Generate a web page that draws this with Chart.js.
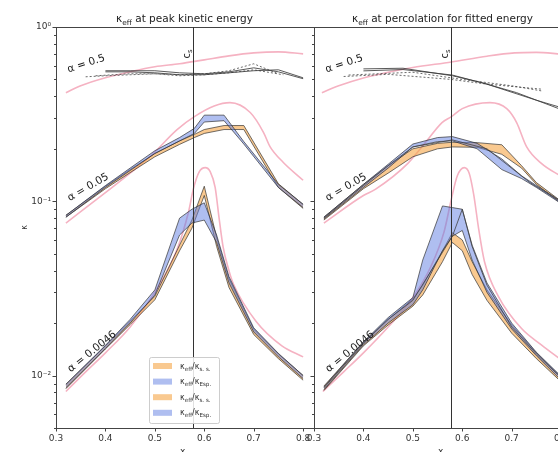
<!DOCTYPE html>
<html><head><meta charset="utf-8">
<script src="https://cdn.jsdelivr.net/npm/chart.js@4.4.1/dist/chart.umd.min.js"></script>
<style>
html,body{margin:0;padding:0;background:#fff;overflow:hidden;width:558px;height:452px;position:relative;}
canvas{position:absolute;top:0;}
#c1{left:0}
#c2{left:258px}
</style></head><body>
<canvas id="c2" width="330" height="452"></canvas>
<canvas id="c1" width="330" height="452"></canvas>
<script>
// ---------------- shared ----------------
const xc = 0.578;
const xTickVals = [0.3, 0.4, 0.5, 0.6, 0.7, 0.8];
const yMajorTicks = [0.01, 0.1, 1];
const yMinorTicks = [0.005,0.006,0.007,0.008,0.009,0.02,0.03,0.04,0.05,0.06,0.07,0.08,0.09,0.2,0.3,0.4,0.5,0.6,0.7,0.8,0.9];
const alphaLabels = ['α = 0.5', 'α = 0.05', 'α = 0.0046'];
const alphaLabelX = [0.361, 0.365, 0.373];
const alphaLabelY = [0.615, 0.120, 0.0137];
const alphaLabelAngle = [-18, -30, -39];

// ---------------- LEFT: kappa_eff at peak kinetic energy ----------------
const L_pink05_x = [0.32,0.35,0.40,0.45,0.50,0.55,0.60,0.65,0.70,0.75,0.80];
const L_pink05_y = [0.420,0.460,0.511,0.553,0.591,0.615,0.648,0.683,0.710,0.720,0.701];
const L_pink005_x = [0.32,0.40,0.45,0.49,0.545,0.58,0.62,0.652,0.693,0.72,0.733,0.76,0.80];
const L_pink005_y = [0.075,0.112,0.145,0.180,0.258,0.306,0.352,0.368,0.323,0.248,0.206,0.167,0.132];
const L_pink0046_x = [0.32,0.36,0.40,0.45,0.504,0.545,0.568,0.578,0.59,0.602,0.612,0.622,0.63,0.638,0.65,0.659,0.705,0.757,0.80];
const L_pink0046_y = [0.0081,0.0105,0.0135,0.019,0.0314,0.053,0.0865,0.118,0.148,0.156,0.148,0.12,0.08,0.055,0.040,0.0335,0.0204,0.0148,0.0128];

const L_g05a_x = [0.40,0.45,0.50,0.55,0.60,0.65,0.70,0.75,0.80];
const L_g05a_y = [0.561,0.561,0.561,0.546,0.539,0.553,0.583,0.553,0.505];
const L_g05b_x = [0.40,0.45,0.50,0.55,0.60,0.65,0.70,0.75,0.80];
const L_g05b_y = [0.553,0.553,0.546,0.532,0.532,0.546,0.561,0.568,0.511];
const L_g05c_x = [0.36,0.40,0.45,0.50,0.55,0.60,0.65,0.70,0.75];
const L_g05c_y = [0.518,0.525,0.532,0.539,0.532,0.539,0.561,0.615,0.539];
const L_g05d_x = [0.38,0.45,0.50,0.55,0.60,0.65,0.70,0.76];
const L_g05d_y = [0.525,0.539,0.539,0.525,0.532,0.546,0.568,0.532];

const L_a005_x = [0.32,0.40,0.45,0.50,0.55,0.58,0.60,0.64,0.68,0.75,0.80];
const L_a005_blueLo = [0.081,0.120,0.150,0.188,0.222,0.245,0.285,0.290,0.213,0.120,0.092];
const L_a005_blueHi = [0.083,0.123,0.155,0.195,0.232,0.262,0.312,0.312,0.220,0.125,0.096];
const L_a005_orLo = [0.081,0.118,0.146,0.180,0.212,0.232,0.245,0.258,0.258,0.120,0.091];
const L_a005_orHi = [0.083,0.122,0.152,0.188,0.222,0.242,0.258,0.272,0.272,0.126,0.096];

const L_a0046_x = [0.32,0.40,0.45,0.50,0.55,0.575,0.60,0.625,0.65,0.70,0.75,0.80];
const L_a0046_orLo = [0.0084,0.0142,0.0196,0.0272,0.052,0.070,0.108,0.055,0.032,0.0172,0.0125,0.0094];
const L_a0046_orHi = [0.0089,0.0148,0.0205,0.0285,0.056,0.078,0.122,0.062,0.036,0.0185,0.0133,0.0100];
const L_a0046_blueLo = [0.0085,0.0143,0.0200,0.029,0.064,0.075,0.078,0.058,0.034,0.0178,0.0128,0.0096];
const L_a0046_blueHi = [0.0089,0.0149,0.0210,0.031,0.080,0.090,0.098,0.064,0.037,0.0188,0.0134,0.0100];

// ---------------- RIGHT: kappa_eff at percolation for fitted energy ----------------
const R_pink05_x = [0.316,0.35,0.40,0.45,0.50,0.578,0.65,0.706,0.75,0.80];
const R_pink05_y = [0.42,0.46,0.51,0.55,0.585,0.63,0.68,0.71,0.715,0.70];
const R_pink005_x = [0.32,0.40,0.424,0.49,0.527,0.559,0.578,0.60,0.656,0.69,0.71,0.73,0.76,0.80];
const R_pink005_y = [0.075,0.108,0.117,0.165,0.22,0.283,0.306,0.34,0.368,0.34,0.283,0.206,0.165,0.139];
const R_pink0046_x = [0.318,0.36,0.40,0.45,0.50,0.537,0.563,0.578,0.59,0.604,0.614,0.623,0.633,0.645,0.673,0.72,0.76,0.80];
const R_pink0046_y = [0.0081,0.0105,0.0135,0.019,0.028,0.0425,0.0665,0.103,0.14,0.156,0.145,0.11,0.07,0.045,0.0285,0.0186,0.015,0.0123];

const R_g05a_x = [0.40,0.48,0.58,0.64,0.71,0.80];
const R_g05a_y = [0.575,0.58,0.525,0.479,0.42,0.336];
const R_g05b_x = [0.40,0.48,0.58,0.65,0.75,0.80];
const R_g05b_y = [0.56,0.57,0.53,0.47,0.38,0.345];
const R_g05c_x = [0.36,0.45,0.578,0.65,0.76];
const R_g05c_y = [0.52,0.535,0.50,0.47,0.44];
const R_g05d_x = [0.37,0.50,0.60,0.70,0.76];
const R_g05d_y = [0.53,0.55,0.50,0.46,0.43];

const R_a005_x = [0.32,0.40,0.45,0.50,0.55,0.58,0.63,0.68,0.72,0.75,0.80];
const R_a005_orLo = [0.078,0.118,0.145,0.180,0.200,0.205,0.204,0.186,0.155,0.125,0.097];
const R_a005_orHi = [0.081,0.125,0.160,0.200,0.215,0.218,0.217,0.211,0.160,0.128,0.100];
const R_a005_blueLo = [0.079,0.120,0.155,0.205,0.220,0.222,0.200,0.152,0.135,0.120,0.097];
const R_a005_blueHi = [0.081,0.125,0.163,0.213,0.232,0.235,0.215,0.175,0.140,0.123,0.100];
const R_a005_line_x = [0.32,0.40,0.45,0.50,0.58,0.65,0.737,0.80];
const R_a005_line_y = [0.080,0.123,0.16,0.205,0.225,0.20,0.128,0.099];

const R_a0046_x = [0.32,0.40,0.45,0.50,0.52,0.56,0.58,0.60,0.62,0.65,0.70,0.75,0.80];
const R_a0046_orLo = [0.0082,0.0148,0.0195,0.025,0.029,0.045,0.058,0.052,0.038,0.027,0.0175,0.0125,0.0092];
const R_a0046_orHi = [0.0087,0.0156,0.021,0.0275,0.033,0.052,0.066,0.060,0.045,0.031,0.0195,0.0135,0.0098];
const R_a0046_blueLo = [0.0083,0.0150,0.0200,0.0255,0.031,0.052,0.063,0.068,0.046,0.030,0.0185,0.0130,0.0094];
const R_a0046_blueHi = [0.0086,0.0156,0.0215,0.028,0.046,0.094,0.092,0.090,0.056,0.034,0.0200,0.0136,0.0099];
const R_a0046_line_x = [0.32,0.40,0.45,0.50,0.58,0.60,0.62,0.65,0.70,0.75,0.80];
const R_a0046_line_y = [0.0085,0.0153,0.021,0.027,0.063,0.090,0.055,0.033,0.019,0.0133,0.0097];

// ---------------- styling ----------------
const FONT = 'DejaVu Sans';
const PINK = 'rgb(245,178,194)';
const ORANGE_FILL = 'rgba(246,168,76,0.62)';
const BLUE_FILL = 'rgba(96,126,226,0.5)';
const EDGE = 'rgba(45,45,45,0.75)';
const GRAY = 'rgba(60,60,60,0.85)';
const AXIS = '#444';

const pts = (xs, ys) => xs.map((x, i) => ({x: x, y: ys[i]}));
function line(xs, ys, color, width, dash, smooth) {
  const d = {data: pts(xs, ys), borderColor: color, borderWidth: width, borderDash: dash || [],
          pointRadius: 0, fill: false, tension: 0};
  if (smooth) { d.cubicInterpolationMode = 'monotone'; }
  return d;
}
function band(xs, lo, hi, fillColor) {
  return [
    {data: pts(xs, lo), borderColor: EDGE, borderWidth: 0.9, pointRadius: 0, fill: false},
    {data: pts(xs, hi), borderColor: EDGE, borderWidth: 0.9, pointRadius: 0, fill: '-1', backgroundColor: fillColor}
  ];
}

function drawRich(ctx, parts, x, y, size, align) {
  let w = 0;
  const measured = parts.map(p => {
    const s = p[1] ? size * 0.7 : size;
    ctx.font = s + 'px "' + FONT + '"';
    const mw = ctx.measureText(p[0]).width;
    w += mw;
    return {t: p[0], s: s, sub: p[1], w: mw};
  });
  let cx = align === 'center' ? x - w / 2 : (align === 'right' ? x - w : x);
  ctx.textAlign = 'left';
  ctx.textBaseline = 'alphabetic';
  measured.forEach(m => {
    ctx.font = m.s + 'px "' + FONT + '"';
    ctx.fillText(m.t, cx, y + (m.sub ? size * 0.25 : 0));
    cx += m.w;
  });
}

const decor = {
  id: 'decor',
  afterDraw(chart, args, o) {
    const ctx = chart.ctx, a = chart.chartArea, x = chart.scales.x, y = chart.scales.y;
    ctx.save();
    ctx.strokeStyle = AXIS; ctx.lineWidth = 1;
    const seg = (x1, y1, x2, y2) => { ctx.beginPath(); ctx.moveTo(x1, y1); ctx.lineTo(x2, y2); ctx.stroke(); };
    seg(a.left, a.top + 0.5, a.right, a.top + 0.5);
    xTickVals.forEach(v => { const p = Math.round(x.getPixelForValue(v)) + 0.5; seg(p, a.bottom, p, a.bottom + 3.5); });
    yMajorTicks.forEach(v => { const p = Math.round(y.getPixelForValue(v)) + 0.5; seg(a.left - 3.5, p, a.left, p); });
    yMinorTicks.forEach(v => { const p = Math.round(y.getPixelForValue(v)) + 0.5; seg(a.left - 2, p, a.left, p); });
    // vertical line at x_c
    const vx = Math.round(x.getPixelForValue(xc)) + 0.5;
    ctx.strokeStyle = '#333'; ctx.lineWidth = 1;
    seg(vx, a.top, vx, a.bottom);
    ctx.fillStyle = '#222';
    ctx.save();
    ctx.translate(vx - 4, a.top + 27);
    ctx.rotate(-Math.PI / 2);
    drawRich(ctx, [['c', false], ['s', true]], 0, 0, 10, 'center');
    ctx.restore();
    // alpha labels
    alphaLabels.forEach((t, i) => {
      ctx.save();
      ctx.translate(x.getPixelForValue(alphaLabelX[i]), y.getPixelForValue(alphaLabelY[i]));
      ctx.rotate(alphaLabelAngle[i] * Math.PI / 180);
      ctx.font = '10.5px "' + FONT + '"';
      ctx.textAlign = 'center'; ctx.textBaseline = 'middle';
      ctx.fillStyle = '#222';
      ctx.fillText(t, 0, 0);
      ctx.restore();
    });
    // title
    ctx.fillStyle = '#222';
    drawRich(ctx, [['κ', false], ['eff', true], [o.title, false]], (a.left + a.right) / 2, 22, 10.5, 'center');
    // x axis title
    ctx.fillStyle = '#333';
    drawRich(ctx, [['x', false], ['c', true]], (a.left + a.right) / 2, 454, 9, 'center');
    if (o.yTitle) {
      ctx.save();
      ctx.translate(25, (a.top + a.bottom) / 2);
      ctx.rotate(-Math.PI / 2);
      ctx.font = '8px "' + FONT + '"';
      ctx.textAlign = 'center'; ctx.textBaseline = 'middle';
      ctx.fillText('κ', 0, 0);
      ctx.restore();
    }
    if (o.legend) {
      const bx = 149, by = 357, bw = 70, bh = 66;
      ctx.fillStyle = 'rgba(255,255,255,0.85)';
      ctx.strokeStyle = 'rgba(200,200,200,0.9)';
      ctx.lineWidth = 1;
      ctx.beginPath();
      ctx.roundRect(bx + 0.5, by + 0.5, bw, bh, 2);
      ctx.fill(); ctx.stroke();
      const items = [
        [ORANGE_FILL, [['κ', false], ['eff', true], ['/κ', false], ['s. s.', true]]],
        [BLUE_FILL, [['κ', false], ['eff', true], ['/κ', false], ['Esp.', true]]],
        [ORANGE_FILL, [['κ', false], ['eff', true], ['/κ', false], ['s. s.', true]]],
        [BLUE_FILL, [['κ', false], ['eff', true], ['/κ', false], ['Esp.', true]]]
      ];
      items.forEach((it, i) => {
        const cy = 366 + i * 15.6;
        ctx.fillStyle = it[0];
        ctx.fillRect(153, cy - 3, 19, 6);
        ctx.fillStyle = '#333';
        drawRich(ctx, it[1], 180, cy + 2.5, 8, 'left');
      });
    }
    ctx.restore();
  }
};

function makeChart(id, datasets, opts) {
  return new Chart(document.getElementById(id), {
    type: 'line',
    data: {datasets: datasets},
    options: {
      responsive: false, animation: false, devicePixelRatio: 1,
      layout: {padding: {top: 27, left: 0, right: opts.padRight, bottom: 0}},
      scales: {
        x: {
          type: 'linear', min: 0.3, max: 0.82,
          grid: {display: false, drawTicks: false},
          border: {display: true, color: AXIS, width: 1},
          ticks: {stepSize: 0.1, includeBounds: false, padding: 5, color: '#333',
                  font: {family: FONT, size: 9}, callback: v => v.toFixed(1), maxRotation: 0},
          afterFit: s => { s.height = 24; }
        },
        y: {
          type: 'logarithmic', min: 0.005, max: 1,
          grid: {display: false, drawTicks: false},
          border: {display: true, color: AXIS, width: 1},
          afterBuildTicks: s => { s.ticks = yMajorTicks.map(v => ({value: v, major: true})); },
          ticks: {display: opts.yLabels, autoSkip: false, padding: 5, color: '#333',
                  font: {family: FONT, size: 9},
                  callback: v => ({'0.01': '10⁻²', '0.1': '10⁻¹', '1': '10⁰'})[String(v)] || ''},
          afterFit: s => { s.width = 56; }
        }
      },
      plugins: {
        legend: {display: false}, tooltip: {enabled: false},
        decor: {title: opts.title, legend: opts.legend, yTitle: opts.yTitle}
      }
    },
    plugins: [decor]
  });
}

const leftSets = [].concat(
  line(L_g05a_x, L_g05a_y, GRAY, 1),
  line(L_g05b_x, L_g05b_y, GRAY, 1),
  line(L_g05c_x, L_g05c_y, GRAY, 0.9, [2, 2]),
  line(L_g05d_x, L_g05d_y, GRAY, 0.9, [2, 2]),
  band(L_a005_x, L_a005_blueLo, L_a005_blueHi, BLUE_FILL),
  band(L_a0046_x, L_a0046_blueLo, L_a0046_blueHi, BLUE_FILL),
  band(L_a005_x, L_a005_orLo, L_a005_orHi, ORANGE_FILL),
  band(L_a0046_x, L_a0046_orLo, L_a0046_orHi, ORANGE_FILL),
  line(L_pink05_x, L_pink05_y, PINK, 1.6, null, true),
  line(L_pink005_x, L_pink005_y, PINK, 1.6, null, true),
  line(L_pink0046_x, L_pink0046_y, PINK, 1.6, null, true)
);

const rightSets = [].concat(
  line(R_g05a_x, R_g05a_y, GRAY, 1),
  line(R_g05b_x, R_g05b_y, GRAY, 1),
  line(R_g05c_x, R_g05c_y, GRAY, 0.9, [2, 2]),
  line(R_g05d_x, R_g05d_y, GRAY, 0.9, [2, 2]),
  line(R_a005_line_x, R_a005_line_y, GRAY, 0.9),
  line(R_a0046_line_x, R_a0046_line_y, GRAY, 0.9),
  band(R_a005_x, R_a005_blueLo, R_a005_blueHi, BLUE_FILL),
  band(R_a0046_x, R_a0046_blueLo, R_a0046_blueHi, BLUE_FILL),
  band(R_a005_x, R_a005_orLo, R_a005_orHi, ORANGE_FILL),
  band(R_a0046_x, R_a0046_orLo, R_a0046_orHi, ORANGE_FILL),
  line(R_pink05_x, R_pink05_y, PINK, 1.6, null, true),
  line(R_pink005_x, R_pink005_y, PINK, 1.6, null, true),
  line(R_pink0046_x, R_pink0046_y, PINK, 1.6, null, true)
);

makeChart('c1', leftSets, {title: ' at peak kinetic energy', legend: true, yTitle: true, yLabels: true, padRight: 17});
makeChart('c2', rightSets, {title: ' at percolation for fitted energy', legend: false, yTitle: false, yLabels: false, padRight: 17});
</script>
</body></html>
